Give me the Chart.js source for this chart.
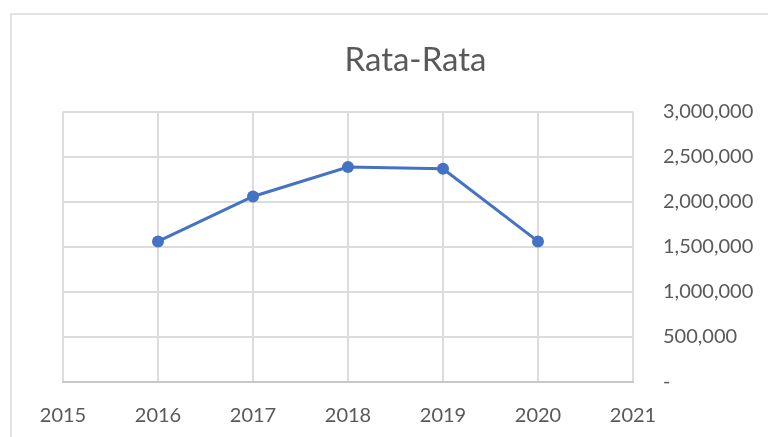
<!DOCTYPE html>
<html>
<head>
<meta charset="utf-8">
<script src="https://cdn.jsdelivr.net/npm/chart.js@4"></script>
<style>
  html, body { margin:0; padding:0; background:#fff; width:768px; height:437px; overflow:hidden; }
  #frame { position:absolute; left:10px; top:13px; width:800px; height:500px; border:2px solid #e3e3e3; box-sizing:border-box; }
  #wrap { position:absolute; left:0; top:0; width:768px; height:437px; }
</style>
</head>
<body>
<div id="frame"></div>
<div id="wrap"><canvas id="c" width="768" height="437"></canvas></div>
<script>
const titleText = "Rata-Rata";
const years = [2016, 2017, 2018, 2019, 2020];
const values = [1560000, 2058000, 2385000, 2365000, 1560000];
const xMin = 2015, xMax = 2021;
const yMin = 0, yMax = 3000000, yStep = 500000;

const points = years.map((y, i) => ({ x: y, y: values[i] }));
const textColor = '#595959';
const gridColor = '#dcdcdc';
const fontFam = 'Lato, "Open Sans", sans-serif';

new Chart(document.getElementById('c'), {
  type: 'line',
  data: {
    datasets: [{
      label: titleText,
      data: points,
      borderColor: '#4472C4',
      backgroundColor: '#4472C4',
      borderWidth: 3,
      pointRadius: 6,
      pointHoverRadius: 6,
      pointBorderWidth: 0,
      tension: 0
    }]
  },
  options: {
    responsive: false,
    animation: false,
    layout: { padding: { left: 63, right: 0, top: 0, bottom: 0 } },
    plugins: {
      legend: { display: false },
      tooltip: { enabled: false },
      title: {
        display: true,
        text: titleText,
        color: textColor,
        font: { family: fontFam, size: 33, weight: 'normal' },
        padding: { top: 41, bottom: 31 }
      }
    },
    scales: {
      x: {
        type: 'linear',
        min: xMin, max: xMax,
        grid: { color: gridColor, lineWidth: 2, drawTicks: false },
        border: { color: '#c8c8c8', width: 2 },
        ticks: {
          stepSize: 1,
          color: textColor,
          font: { family: fontFam, size: 20 },
          padding: 22,
          maxRotation: 0,
          callback: v => String(v)
        },
        afterFit: s => { s.height = 55; }
      },
      y: {
        position: 'right',
        min: yMin, max: yMax,
        grid: { color: gridColor, lineWidth: 2, drawTicks: false },
        border: { display: false },
        ticks: {
          stepSize: yStep,
          color: textColor,
          font: { family: fontFam, size: 20 },
          padding: 30,
          callback: v => v === 0 ? '-' : v.toLocaleString('en-US')
        },
        afterFit: s => { s.width = 135; }
      }
    }
  }
});
</script>
</body>
</html>
